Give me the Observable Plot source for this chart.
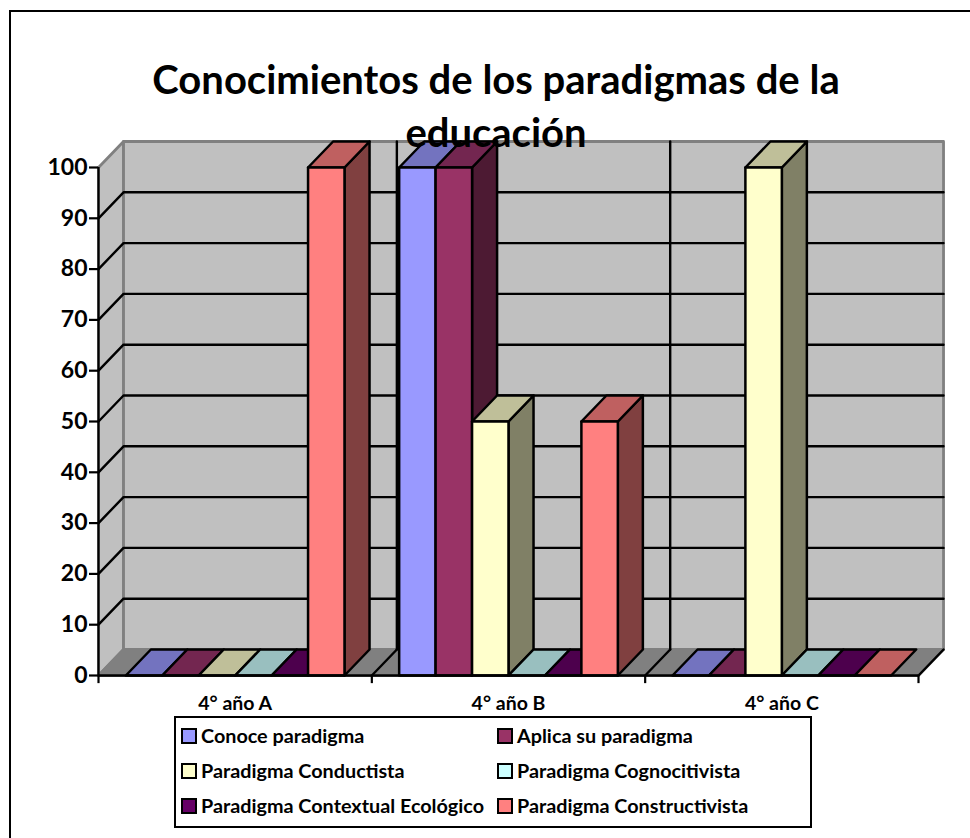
<!DOCTYPE html>
<html><head><meta charset="utf-8">
<script src="https://cdn.jsdelivr.net/npm/d3@7"></script>
<script src="https://cdn.jsdelivr.net/npm/@observablehq/plot@0.6"></script>
<style>
html,body{margin:0;padding:0;background:#fff;}
#page{position:relative;width:970px;height:838px;overflow:hidden;font-family:Lato,sans-serif;font-weight:700;color:#000;}
#frame{position:absolute;left:9px;top:10px;width:1000px;height:900px;border:2px solid #000;box-sizing:border-box;}
#title{position:relative;z-index:2;height:130px;box-sizing:border-box;padding-top:53px;text-align:center;font-size:40px;line-height:53px;width:992px;}
#chart{position:relative;z-index:1;height:596px;}
#chart svg{display:block;}
#legend{position:absolute;z-index:2;left:174px;top:716px;width:638px;height:112px;box-sizing:border-box;border:2px solid #000;background:#fff;font-size:19.8px;}
.item{position:absolute;white-space:nowrap;line-height:22px;}
.sw{position:absolute;left:0;top:2px;width:16px;height:16px;box-sizing:border-box;border:2px solid #000;}
.lb{position:absolute;left:20px;top:-2px;}
</style></head>
<body><div id="page">
<div id="frame"></div>
<div id="title">Conocimientos de los paradigmas de la<br>educación</div>
<div id="chart"></div>
<div id="legend"></div>
</div>
<script>
const categories = ["4° año A", "4° año B", "4° año C"];
const seriesNames = ["Conoce paradigma", "Aplica su paradigma", "Paradigma Conductista", "Paradigma Cognocitivista", "Paradigma Contextual Ecológico", "Paradigma Constructivista"];
const conoce = [0, 100, 0];
const aplica = [0, 100, 0];
const conductista = [0, 50, 100];
const cognocitivista = [0, 0, 0];
const contextual = [0, 0, 0];
const constructivista = [100, 50, 0];
const seriesValues = [conoce, aplica, conductista, cognocitivista, contextual, constructivista];
const frontColors = ["#9999FF", "#993366", "#FFFFCC", "#CCFFFF", "#660066", "#FF8080"];
const topColors = ["#7373BF", "#732650", "#BFBF99", "#99BFBF", "#4D004D", "#BF6060"];
const sideColors = ["#4D4D80", "#4D1A33", "#808066", "#668080", "#330033", "#804040"];
const yTicks = [0, 10, 20, 30, 40, 50, 60, 70, 80, 90, 100];

// 3D projection and bar layout, in data units
const barW = 1 / 7.5, gapW = 0.1, dX = 25 / 273, dY = 26 / 5.08;
const n = categories.length;

let pid = 0;
const closed = (target, pts, fill) => { const id = pid++; for (const [x, y] of [...pts, pts[0]]) target.push({id, x, y, fill}); };
const open = (target, pts) => { const id = pid++; for (const [x, y] of pts) target.push({id, x, y}); };

// walls and floor
const wall = [];
closed(wall, [[0, 0], [dX, dY], [dX, 100 + dY], [0, 100]], "#C0C0C0");
closed(wall, [[dX, dY], [n + dX, dY], [n + dX, 100 + dY], [dX, 100 + dY]], "#C0C0C0");
closed(wall, [[0, 0], [dX, dY], [n + dX, dY], [n, 0]], "#808080");

// gridlines
const gridLines = [];
for (const v of yTicks.slice(1, -1)) open(gridLines, [[0, v], [dX, v + dY], [n + dX, v + dY]]);
for (let i = 1; i < n; i++) open(gridLines, [[i + dX, dY], [i + dX, 100 + dY]]);
for (let i = 1; i <= n; i++) open(gridLines, [[i, 0], [i + dX, dY]]);

// bars, painted left to right: side, top, front
const polys = [];
categories.forEach((c, g) => {
  seriesValues.forEach((vals, s) => {
    const v = vals[g], x0 = g + gapW + s * barW, x1 = x0 + barW;
    if (v > 0) closed(polys, [[x1, 0], [x1 + dX, dY], [x1 + dX, v + dY], [x1, v]], sideColors[s]);
    closed(polys, [[x0, v], [x1, v], [x1 + dX, v + dY], [x0 + dX, v + dY]], topColors[s]);
    if (v > 0) closed(polys, [[x0, 0], [x1, 0], [x1, v], [x0, v]], frontColors[s]);
  });
});

const plot = Plot.plot({
  width: 970, height: 596,
  marginLeft: 98, marginRight: 52, marginTop: 37, marginBottom: 51,
  x: {type: "linear", domain: [0, n], axis: null},
  y: {type: "linear", domain: [0, 100], axis: null},
  style: {background: "transparent", fontFamily: "Lato, sans-serif"},
  marks: [
    Plot.line(wall, {x: "x", y: "y", z: "id", fill: "fill", stroke: "#808080", strokeWidth: 2.8, curve: "linear"}),
    Plot.line(gridLines, {x: "x", y: "y", z: "id", stroke: "#000", strokeWidth: 2.4, curve: "linear"}),
    Plot.line(polys, {x: "x", y: "y", z: "id", fill: "fill", stroke: "#000", strokeWidth: 2.5, curve: "linear"}),
    Plot.ruleX([0], {y1: 0, y2: 100, stroke: "#000", strokeWidth: 2.2}),
    Plot.ruleY([0], {x1: 0, x2: n, stroke: "#000", strokeWidth: 2.5}),
    Plot.axisY({ticks: yTicks, tickSize: 9, tickPadding: 2, tickFormat: d => d, stroke: "#000", strokeWidth: 2.2, fontSize: 23, fontWeight: 700, fill: "#000", label: null}),
    Plot.ruleX(d3.range(n + 1), {y1: 0, y2: -1.6, strokeWidth: 2.2, stroke: "#000"}),
    Plot.text(categories, {x: (d, i) => i + 0.5, y: () => 0, text: d => d, dy: 28, fontSize: 19.5, fontWeight: 700, fill: "#000", lineAnchor: "middle"})
  ]
});
document.getElementById("chart").appendChild(plot);

// Legend
const legend = document.getElementById("legend");
seriesNames.forEach((name, i) => {
  const col = i % 2, row = Math.floor(i / 2);
  const it = document.createElement("div");
  it.className = "item";
  it.style.left = (col ? 321 : 5) + "px";
  it.style.top = (8 + row * 35) + "px";
  it.innerHTML = `<span class="sw" style="background:${frontColors[i]}"></span><span class="lb">${name}</span>`;
  legend.appendChild(it);
});
</script>
</body></html>
